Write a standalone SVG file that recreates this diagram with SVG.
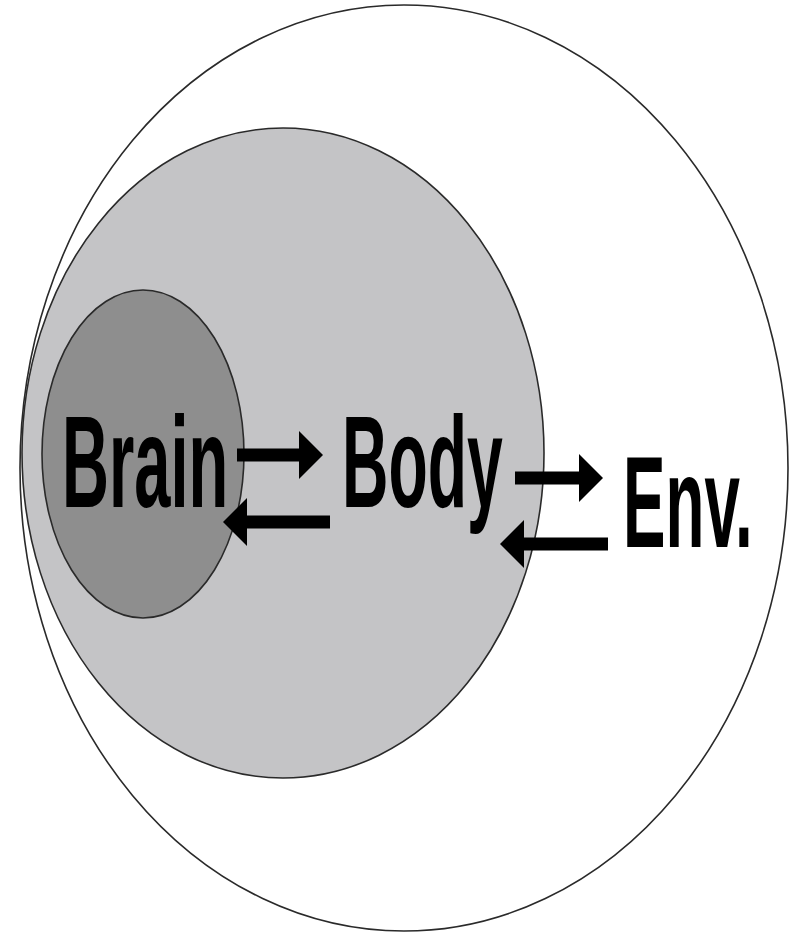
<svg xmlns="http://www.w3.org/2000/svg" width="792" height="937" viewBox="0 0 792 937">
<style>
.lbl{font-family:"Liberation Sans",Arial,sans-serif;font-weight:bold;font-size:130px;fill:#000}
.ring{stroke:#2a2a2a;stroke-width:1.6}
.arr{stroke:#000;stroke-width:13;fill:none}
</style>
<defs>
<marker id="ah" viewBox="0 0 24 48" refX="4" refY="24" markerWidth="24" markerHeight="48" markerUnits="userSpaceOnUse" orient="auto">
<path d="M0,0 L24,24 L0,48 Z" fill="#000"/>
</marker>
</defs>
<rect width="792" height="937" fill="#fff"/>
<g id="env">
<ellipse class="ring" cx="404" cy="468" rx="384" ry="463" fill="#fff"/>
<text class="lbl" transform="translate(623,547) scale(0.49,1)">Env.</text>
</g>
<g id="body">
<ellipse class="ring" cx="283" cy="453" rx="261" ry="325" fill="#c4c4c6"/>
<text class="lbl" transform="translate(342,507) scale(0.495,1)">Body</text>
</g>
<g id="brain">
<ellipse class="ring" cx="143" cy="454" rx="101" ry="164" fill="#8e8e8e"/>
<text class="lbl" transform="translate(62,507) scale(0.5,1)">Brain</text>
</g>
<g id="connectors">
<line class="arr" x1="237" y1="455" x2="303" y2="455" marker-end="url(#ah)"/>
<line class="arr" x1="330" y1="522" x2="243" y2="522" marker-end="url(#ah)"/>
<line class="arr" x1="515" y1="478" x2="583" y2="478" marker-end="url(#ah)"/>
<line class="arr" x1="608" y1="544" x2="520" y2="544" marker-end="url(#ah)"/>
</g>
</svg>
